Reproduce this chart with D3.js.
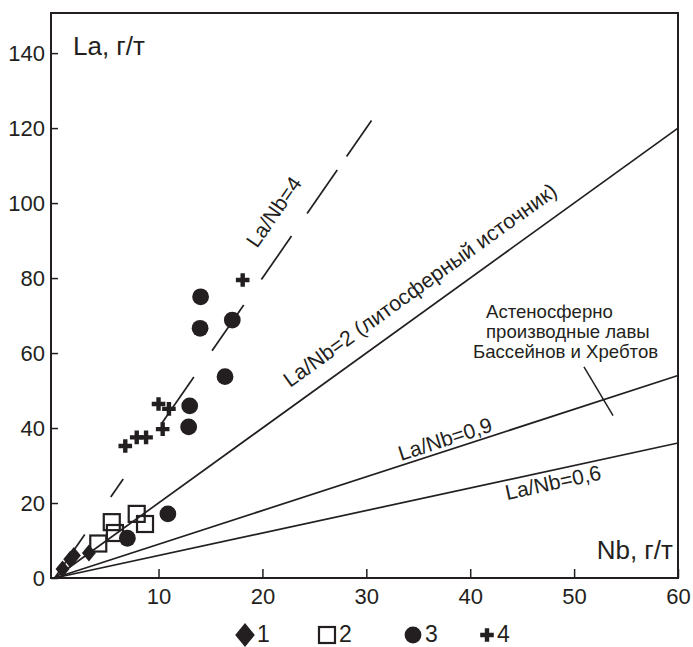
<!DOCTYPE html>
<html>
<head>
<meta charset="utf-8">
<script src="https://cdnjs.cloudflare.com/ajax/libs/d3/7.8.5/d3.min.js"></script>
<style>
  html, body { margin: 0; padding: 0; background: #fff; }
  svg text { font-family: "Liberation Sans", Arial, sans-serif; fill: #231f20; }
</style>
</head>
<body>
<div id="chart"></div>
<script>
// ===========================
// La vs Nb diagram
// ===========================

// ---- data (Nb, La in g/t) ----
const nbTicks = [10, 20, 30, 40, 50, 60];
const laTicks = [0, 20, 40, 60, 80, 100, 120, 140];

const group1 = [[0.76, 2.4], [1.5, 5.0], [1.85, 6.0], [3.3, 6.7]];            // diamonds
const group2 = [[4.2, 9.2], [5.5, 14.9], [5.8, 12.0], [7.9, 17.1], [8.7, 14.4]]; // open squares
const group3 = [[14.05, 75.0], [14.0, 66.6], [17.1, 68.8], [16.4, 53.7],
                [13.0, 45.9], [12.9, 40.3], [10.9, 17.1], [7.0, 10.6]];         // circles
const group4 = [[18.1, 79.5], [10.0, 46.4], [11.0, 45.1], [10.4, 39.7],
                [6.8, 35.2], [7.9, 37.5], [8.8, 37.5]];                         // crosses

const ratioLines = [2, 0.9, 0.6];
// pieces of the broken La/Nb=4 line, as Nb intervals
const ratio4Dashes = [[0, 2.9], [5.4, 6.6], [10.3, 13.4], [15.15, 18.2],
                      [19.9, 22.8], [24.3, 27.2], [28.1, 30.5]];
const leader = [[50.95, 56.3], [53.75, 43.3]];

const legendItems = ['1', '2', '3', '4'];

// ---- setup ----
const width = 693, height = 647;
const ink = '#231f20';

const x = d3.scaleLinear().domain([-0.35, 60]).range([51, 678]);
const y = d3.scaleLinear().domain([0, 150.7]).range([578, 13]);

const svg = d3.select('#chart').append('svg')
    .attr('width', width)
    .attr('height', height);

// axes
svg.append('g')
    .attr('transform', `translate(0,${y(0)})`)
    .call(d3.axisBottom(x).tickValues(nbTicks).tickSizeInner(-9).tickSizeOuter(0).tickPadding(10))
    .call(g => g.select('.domain').remove())
    .call(g => g.selectAll('line').attr('stroke', ink).attr('stroke-width', 1.5))
    .call(g => g.selectAll('text').attr('font-size', 22).attr('fill', ink));

svg.append('g')
    .attr('transform', `translate(${x.range()[0]},0)`)
    .call(d3.axisLeft(y).tickValues(laTicks).tickSizeInner(-7).tickSizeOuter(0).tickPadding(6))
    .call(g => g.select('.domain').remove())
    .call(g => g.selectAll('line').attr('stroke', ink).attr('stroke-width', 1.5))
    .call(g => g.selectAll('text').attr('font-size', 22).attr('fill', ink));

// frame
svg.append('rect')
    .attr('x', x.range()[0])
    .attr('y', y.range()[1])
    .attr('width', x.range()[1] - x.range()[0])
    .attr('height', y.range()[0] - y.range()[1])
    .attr('fill', 'none')
    .attr('stroke', ink)
    .attr('stroke-width', 2);

// ratio lines
const line = d3.line().x(d => x(d[0])).y(d => y(d[1]));

ratioLines.forEach(r => {
    svg.append('path')
        .attr('d', line([[0, 0], [60, 60 * r]]))
        .attr('stroke', ink)
        .attr('stroke-width', 1.7)
        .attr('fill', 'none');
});

ratio4Dashes.forEach(([a, b]) => {
    svg.append('path')
        .attr('d', line([[a, 4 * a], [b, 4 * b]]))
        .attr('stroke', ink)
        .attr('stroke-width', 1.7)
        .attr('fill', 'none');
});

svg.append('path')
    .attr('d', line(leader))
    .attr('stroke', ink)
    .attr('stroke-width', 1.5)
    .attr('fill', 'none');

// angle of a ratio line on screen
const angleOf = r => -Math.atan((y(0) - y(10 * r)) / (x(10) - x(0))) * 180 / Math.PI;

function lineLabel(txt, px, py, r, size) {
    svg.append('text')
        .attr('transform', `translate(${px},${py}) rotate(${angleOf(r)})`)
        .attr('font-size', size)
        .text(txt);
}
lineLabel('La/Nb=4', 257, 249, 4, 21);
lineLabel('La/Nb=2 (литосферный источник)', 290, 388, 2, 21.3);
lineLabel('La/Nb=0,9', 401, 461, 0.9, 21);
lineLabel('La/Nb=0,6', 507, 500, 0.6, 21);

// annotation
const note = svg.append('text').attr('font-size', 18.6);
note.append('tspan').attr('x', 486).attr('y', 318).text('Астеносферно');
note.append('tspan').attr('x', 486).attr('y', 338).text('производные лавы');
note.append('tspan').attr('x', 473).attr('y', 358).text('Бассейнов и Хребтов');

// axis titles
svg.append('text').attr('x', 73).attr('y', 55).attr('font-size', 26).text('La, г/т');
svg.append('text').attr('x', 673).attr('y', 559).attr('font-size', 26)
    .attr('text-anchor', 'end').text('Nb, г/т');

// ---- markers ----
const diamondPath = s => `M0,${-8.5 * s}L${7 * s},0L0,${8.5 * s}L${-7 * s},0Z`;
const crossPath = 'M-2.2,-6.8H2.2V-2.2H6.8V2.2H2.2V6.8H-2.2V2.2H-6.8V-2.2H-2.2Z';

function drawMarks(data, shape) {
    const g = svg.append('g');
    data.forEach(d => drawShape(g, x(d[0]), y(d[1]), shape, 1));
}

function drawShape(g, px, py, shape, s) {
    if (shape === 'circle') {
        g.append('circle').attr('cx', px).attr('cy', py).attr('r', 8.4).attr('fill', ink);
    } else if (shape === 'square') {
        g.append('rect').attr('x', px - 8).attr('y', py - 8).attr('width', 16).attr('height', 16)
            .attr('fill', 'none').attr('stroke', ink).attr('stroke-width', 2.2);
    } else if (shape === 'diamond') {
        g.append('path').attr('d', diamondPath(s)).attr('transform', `translate(${px},${py})`)
            .attr('fill', ink);
    } else {
        g.append('path').attr('d', crossPath).attr('transform', `translate(${px},${py})`)
            .attr('fill', ink);
    }
}

drawMarks(group2, 'square');
drawMarks(group3, 'circle');
drawMarks(group1, 'diamond');
drawMarks(group4, 'cross');

// ---- legend ----
const legendShapes = ['diamond', 'square', 'circle', 'cross'];
const legendX = [245, 327, 413, 487];
const legendG = svg.append('g');
legendItems.forEach((lab, i) => {
    drawShape(legendG, legendX[i], 635, legendShapes[i], 1.4);
    legendG.append('text')
        .attr('x', legendX[i] + (i === 3 ? 10 : 12))
        .attr('y', 642)
        .attr('font-size', 23)
        .text(lab);
});
</script>
</body>
</html>
